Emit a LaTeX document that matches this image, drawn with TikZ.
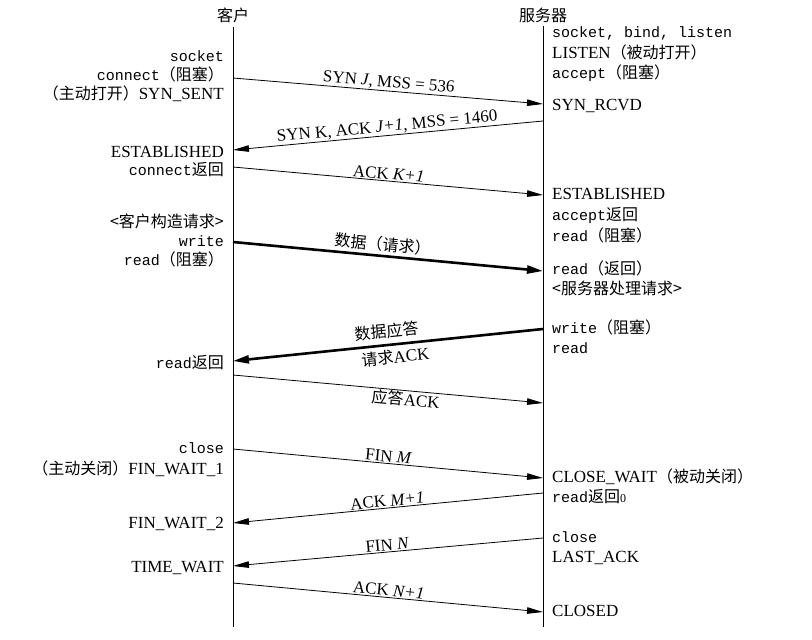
\documentclass[tikz,border=0pt]{standalone}
\usepackage{fontspec}
\setmainfont{Liberation Serif}
\setmonofont{Liberation Mono}
\newfontfamily\cjkfont{Noto Sans CJK SC}
\usetikzlibrary{arrows.meta}
\newcommand\zh[1]{{\cjkfont\fontsize{16}{16}\selectfont #1}}
\newcommand\mono[1]{{\ttfamily\fontsize{15}{15}\selectfont #1}}
\begin{document}
\begin{tikzpicture}[x=1pt,y=-1pt,
  life/.style={line width=0.9pt},
  msg/.style={line width=0.8pt,-{Triangle[length=16pt,width=6.5pt]}},
  bigmsg/.style={line width=2.6pt,-{Triangle[length=16pt,width=8pt]}},
  lleft/.style={anchor=base east,inner sep=0pt,font=\fontsize{17}{19}\selectfont},
  lright/.style={anchor=base west,inner sep=0pt,font=\fontsize{17}{19}\selectfont},
  hdr/.style={inner sep=0pt,font=\cjkfont\fontsize{16}{16}\selectfont},
  albl/.style={sloped,inner sep=1pt,font=\fontsize{17}{19}\selectfont}]
\useasboundingbox (0,0) rectangle (812,640);
% lifelines
\node[hdr] (hc) at (233,15) {客户};
\node[hdr] (hs) at (543,15) {服务器};
\coordinate (L0) at (233,27); \coordinate (L1) at (233,627);
\coordinate (R0) at (543,26); \coordinate (R1) at (543,627);
\draw[life] (L0) -- (L1);
\draw[life] (R0) -- (R1);
% message end points
\coordinate (a1) at (233,78);  \coordinate (b1) at (543,104);
\coordinate (b2) at (543,121); \coordinate (a2) at (233,150);
\coordinate (a3) at (233,167); \coordinate (b3) at (543,195);
\coordinate (a4) at (233,242); \coordinate (b4) at (543,271);
\coordinate (b5) at (543,329); \coordinate (a5) at (233,361);
\coordinate (a6) at (233,375); \coordinate (b6) at (543,403);
\coordinate (a7) at (233,449); \coordinate (b7) at (543,478);
\coordinate (b8) at (543,493); \coordinate (a8) at (233,523);
\coordinate (b9) at (543,538); \coordinate (a9) at (233,566);
\coordinate (a10) at (233,583); \coordinate (b10) at (543,612);
% messages
\draw[msg] (a1) -- node[albl,above] {SYN \textit{J}, MSS = 536} (b1);
\draw[msg] (b2) -- node[albl,above] {SYN K, ACK \textit{J+1}, MSS = 1460} (a2);
\draw[msg] (a3) -- node[albl,above] {ACK \textit{K+1}} (b3);
\draw[bigmsg] (a4) -- node[albl,above=2pt,pos=0.48] {\zh{数据（请求）}} (b4);
\draw[bigmsg] (b5) -- node[albl,above=4pt] {\zh{数据应答}} node[albl,below=3pt,pos=0.48] {\zh{请求}ACK} (a5);
\draw[msg] (a6) -- node[albl,below,pos=0.56] {\zh{应答}ACK} (b6);
\draw[msg] (a7) -- node[albl,above] {FIN \textit{M}} (b7);
\draw[msg] (b8) -- node[albl,above] {ACK \textit{M+1}} (a8);
\draw[msg] (b9) -- node[albl,above] {FIN \textit{N}} (a9);
\draw[msg] (a10) -- node[albl,above] {ACK \textit{N+1}} (b10);
% client labels
\node[lleft] (c1) at (224,61) {\mono{socket}};
\node[lleft] (c2) at (224,80) {\mono{connect}\zh{（阻塞）}};
\node[lleft] (c3) at (224,99) {\zh{（主动打开）}SYN\_SENT};
\node[lleft] (c4) at (224,157) {ESTABLISHED};
\node[lleft] (c5) at (224,175) {\mono{connect}\zh{返回}};
\node[lleft] (c6) at (224,227) {\zh{<客户构造请求>}};
\node[lleft] (c7) at (224,246) {\mono{write}};
\node[lleft] (c8) at (224,265) {\mono{read}\zh{（阻塞）}};
\node[lleft] (c9) at (224,368) {\mono{read}\zh{返回}};
\node[lleft] (c10) at (224,453) {\mono{close}};
\node[lleft] (c11) at (224,474) {\zh{（主动关闭）}FIN\_WAIT\_1};
\node[lleft] (c12) at (224,528) {FIN\_WAIT\_2};
\node[lleft] (c13) at (224,572) {TIME\_WAIT};
% server labels
\node[lright] (s1) at (552,37) {\mono{socket, bind, listen}};
\node[lright] (s2) at (552,58) {LISTEN\zh{（被动打开）}};
\node[lright] (s3) at (552,78) {\mono{accept}\zh{（阻塞）}};
\node[lright] (s4) at (552,110) {SYN\_RCVD};
\node[lright] (s5) at (552,199) {ESTABLISHED};
\node[lright] (s6) at (552,220) {\mono{accept}\zh{返回}};
\node[lright] (s7) at (552,241) {\mono{read}\zh{（阻塞）}};
\node[lright] (s8) at (552,274) {\mono{read}\zh{（返回）}};
\node[lright] (s9) at (552,294) {\zh{<服务器处理请求>}};
\node[lright] (s10) at (552,333) {\mono{write}\zh{（阻塞）}};
\node[lright] (s11) at (552,353) {\mono{read}};
\node[lright] (s12) at (552,482) {CLOSE\_WAIT\zh{（被动关闭）}};
\node[lright] (s13) at (552,502) {\mono{read}\zh{返回}{\fontsize{12}{12}\selectfont 0}};
\node[lright] (s14) at (552,542) {\mono{close}};
\node[lright] (s15) at (552,562) {LAST\_ACK};
\node[lright] (s16) at (552,616) {CLOSED};
\end{tikzpicture}
\end{document}
